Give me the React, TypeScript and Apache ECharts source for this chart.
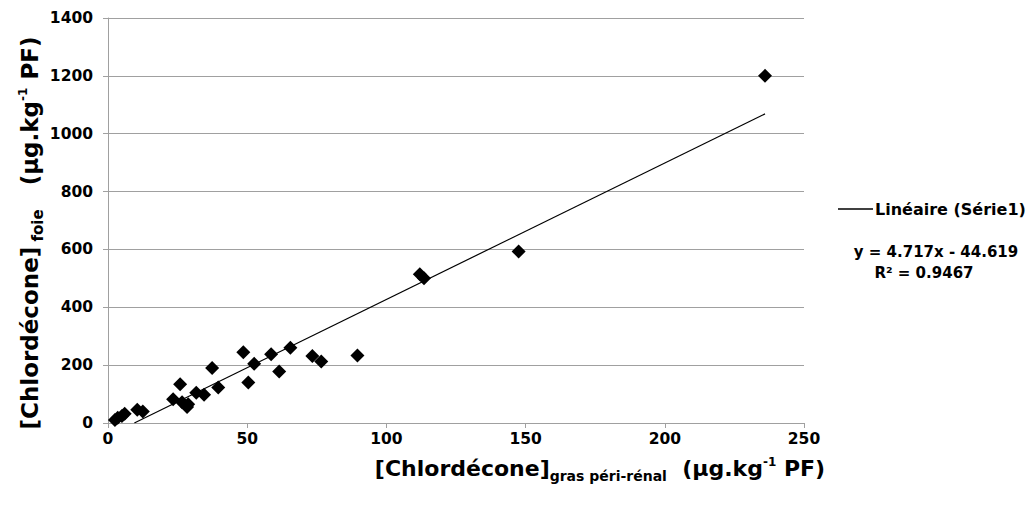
import React, { useEffect, useRef } from "react";
import * as echarts from "echarts";

// Chlordécone concentrations (µg/kg PF)
const grasValues: number[] = [
  2.5, 3.5, 5, 6, 10.5, 12.5,
  23.4, 25.9, 26.6, 28.4, 28.8, 31.7, 34.5, 37.4, 39.6,
  48.6, 50.4, 52.5, 58.6, 61.5, 65.5, 73.4, 76.6, 89.6,
  112, 113.5, 147.5, 236,
];
const foieValues: number[] = [
  10, 18, 24, 32, 46, 40,
  82, 134, 72, 55, 65, 105, 98, 190, 123,
  245, 140, 205, 238, 178, 260, 232, 213, 233,
  514, 500, 593, 1200,
];
const trendSlope = 4.717;
const trendIntercept = -44.619;
const trendLabel = "Linéaire (Série1)";
const equationText = "y = 4.717x - 44.619";
const r2Text = "R² = 0.9467";
const xTicks = [0, 50, 100, 150, 200, 250];
const yTicks = [0, 200, 400, 600, 800, 1000, 1200, 1400];

const FONT = "DejaVu Sans, Liberation Sans, Arial, sans-serif";

function makeRich(main: number, sub: number, sup: number) {
  return {
    m: { fontSize: main, fontWeight: "bold", fontFamily: FONT, color: "#000", lineHeight: main * 1.35 },
    sub: { fontSize: sub, fontWeight: "bold", fontFamily: FONT, color: "#000", lineHeight: sub, verticalAlign: "bottom" },
    sup: { fontSize: sup, fontWeight: "bold", fontFamily: FONT, color: "#000", lineHeight: sup, verticalAlign: "top", padding: [3, 0, 0, 0] },
  };
}

export default function App() {
  const ref = useRef<HTMLDivElement>(null);
  useEffect(() => {
    if (!ref.current) return;
    const chart = echarts.init(ref.current, undefined, { renderer: "svg" });
    const scatterData = grasValues.map((x, i) => [x, foieValues[i]]);
    const xMax = Math.max(...grasValues);
    const xStart = -trendIntercept / trendSlope;
    const trendData = [
      [xStart, trendSlope * xStart + trendIntercept],
      [xMax, trendSlope * xMax + trendIntercept],
    ];
    chart.setOption({
      animation: false,
      backgroundColor: "#fff",
      grid: { left: 108, right: 226, top: 18, bottom: 83, containLabel: false },
      xAxis: {
        type: "value",
        min: 0,
        max: 250,
        interval: 50,
        axisLine: { show: true, lineStyle: { color: "#a0a0a0", width: 1 } },
        axisTick: { show: true, length: 5, lineStyle: { color: "#a0a0a0" } },
        splitLine: { show: false },
        axisLabel: {
          color: "#000",
          fontSize: 15.5,
          fontWeight: "bold",
          fontFamily: FONT,
          margin: 8,
          formatter: (v: number) => (xTicks.includes(v) ? String(v) : ""),
        },
      },
      yAxis: {
        type: "value",
        min: 0,
        max: 1400,
        interval: 200,
        axisLine: { show: true, lineStyle: { color: "#a0a0a0", width: 1 } },
        axisTick: { show: true, length: 5, lineStyle: { color: "#a0a0a0" } },
        splitLine: { show: true, lineStyle: { color: "#a0a0a0", width: 1 } },
        axisLabel: {
          color: "#000",
          fontSize: 15.5,
          fontWeight: "bold",
          fontFamily: FONT,
          margin: 15,
          formatter: (v: number) => (yTicks.includes(v) ? String(v) : ""),
        },
      },
      legend: {
        show: true,
        data: [trendLabel],
        left: 838,
        top: 201,
        padding: 0,
        icon: "rect",
        itemWidth: 35,
        itemHeight: 1.3,
        itemGap: 0,
        textStyle: { fontSize: 16, fontWeight: "bold", fontFamily: FONT, color: "#000", padding: [0, 0, 0, -3] },
      },
      series: [
        {
          name: "Série1",
          type: "scatter",
          data: scatterData,
          symbol: "diamond",
          symbolSize: 14,
          itemStyle: { color: "#000", opacity: 1 },
          z: 3,
        },
        {
          name: trendLabel,
          type: "line",
          data: trendData,
          showSymbol: false,
          symbol: "none",
          lineStyle: { color: "#000", width: 1.2 },
          itemStyle: { color: "#000" },
          z: 2,
        },
      ],
      graphic: [
        {
          type: "text",
          x: 936,
          y: 252,
          style: {
            text: equationText,
            fontSize: 15,
            fontWeight: "bold",
            fontFamily: FONT,
            fill: "#000",
            align: "center",
            verticalAlign: "middle",
          },
        },
        {
          type: "text",
          x: 924,
          y: 273,
          style: {
            text: r2Text,
            fontSize: 15,
            fontWeight: "bold",
            fontFamily: FONT,
            fill: "#000",
            align: "center",
            verticalAlign: "middle",
          },
        },
        {
          type: "text",
          x: 600,
          y: 468,
          style: {
            text: "{m|[Chlordécone]}{sub|gras péri-rénal}{m|  (µg.kg}{sup|-1}{m| PF)}",
            rich: makeRich(22, 14, 12),
            align: "center",
            verticalAlign: "middle",
          },
        },
        {
          type: "text",
          x: 30,
          y: 233,
          rotation: Math.PI / 2,
          style: {
            text: "{m|[Chlordécone]}{sub| foie}{m|   (µg.kg}{sup|-1}{m| PF)}",
            rich: makeRich(23, 15, 12),
            align: "center",
            verticalAlign: "middle",
          },
        },
      ],
    });
    return () => chart.dispose();
  }, []);
  return (
    <div
      ref={ref}
      style={{ position: "fixed", left: 0, top: 0, width: 1030, height: 506, background: "#fff" }}
    />
  );
}
